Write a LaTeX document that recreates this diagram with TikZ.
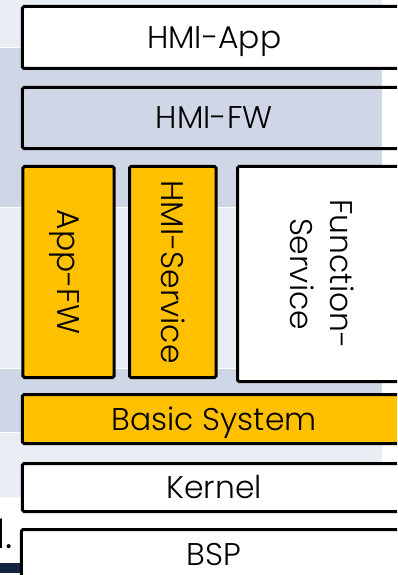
\documentclass[tikz,border=0pt]{standalone}
\usepackage{fontspec}
\setmainfont{Poppins}[UprightFont=* Light]
\definecolor{bandlight}{HTML}{E9EDF4}
\definecolor{banddark}{HTML}{CFD6E5}
\definecolor{layergold}{HTML}{FFC000}
\definecolor{navybar}{HTML}{14253F}
\begin{document}
\begin{tikzpicture}[x=1bp,y=-1bp,
    layer/.style={draw=black, line width=3bp, rounded corners=1.5bp, inner sep=0pt,
        font=\fontsize{31.5}{40}\selectfont, text height=22bp, text depth=0pt},
    band/.style={fill=#1, draw=white, line width=1bp}]
    \useasboundingbox (0,0) rectangle (397,575);
    \clip (0,0) rectangle (397,575);

    % Background bands
    \draw[band=bandlight] (-2,-2) rectangle (382,48);
    \draw[band=banddark] (-2,48) rectangle (382,207);
    \draw[band=bandlight] (-2,207) rectangle (382,368);
    \draw[band=banddark] (-2,368) rectangle (382,432);
    \draw[band=bandlight] (-2,432) rectangle (382,497);
    \fill[navybar] (0,563) rectangle (20,573);
    \node[anchor=base east, inner sep=0pt, font=\fontsize{40}{42}\selectfont] (cuttext) at (13,548) {l.};

    % Layers
    \node[layer, fill=white, minimum width=383.5bp, minimum height=62bp] (hmiapp) at (214.25,37.5) {HMI-App};
    \node[layer, minimum width=383.5bp, minimum height=61bp] (hmifw) at (214.25,118) {HMI-FW};
    \node[layer, fill=layergold, rotate=-90, minimum width=211bp, minimum height=91bp] (appfw) at (68.5,272) {App-FW};
    \node[layer, fill=layergold, rotate=-90, minimum width=211bp, minimum height=86.5bp] (hmiservice) at (172.75,272) {HMI-Service};
    \node[layer, fill=white, rotate=-90, align=center, text height=, text depth=, minimum width=215bp, minimum height=168.5bp] (funcservice) at (321.75,274) {Function-\\Service};
    \node[layer, fill=layergold, minimum width=383.5bp, minimum height=49bp] (basicsys) at (214.25,419) {Basic System};
    \node[layer, fill=white, minimum width=383.5bp, minimum height=48bp] (kernel) at (214.25,487.5) {Kernel};
    \node[layer, fill=white, minimum width=384.5bp, minimum height=49bp] (bsp) at (213.75,554) {BSP};
\end{tikzpicture}
\end{document}
